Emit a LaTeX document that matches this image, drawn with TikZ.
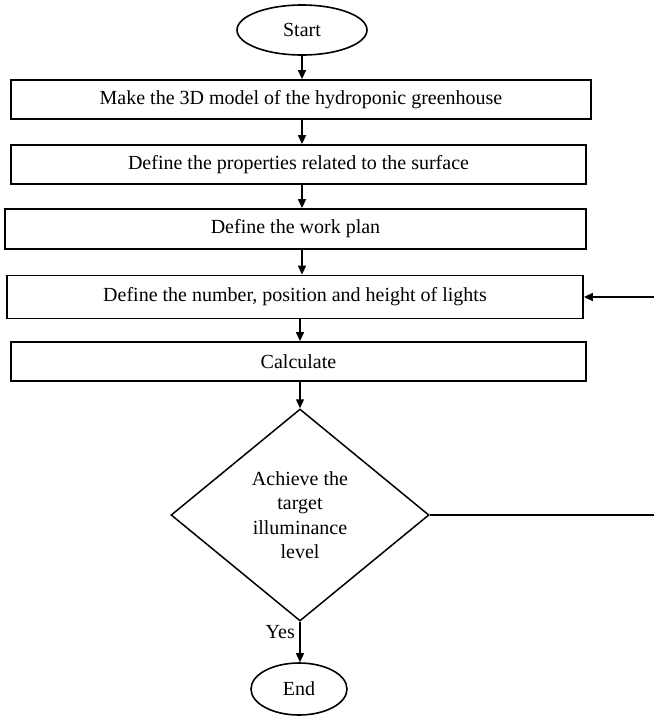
\documentclass[tikz,border=0pt]{standalone}
\usepackage{fontspec}
\setmainfont{Liberation Serif}
\usetikzlibrary{shapes.geometric,arrows.meta}
\begin{document}
\begin{tikzpicture}[x=1pt,y=-1pt,
  every node/.style={font=\fontsize{20}{24.5}\selectfont},
  procbox/.style={draw, line width=1.8pt, inner sep=0pt, align=center},
  term/.style={draw, ellipse, line width=1.6pt, inner sep=0pt},
  decide/.style={draw, diamond, line width=1.5pt, inner sep=0pt, align=center},
  arr/.style={line width=1.4pt, -{Triangle[length=9pt,width=8pt]}}]
\useasboundingbox (0,0) rectangle (654,716);
\coordinate (ax) at (302,0);
\coordinate (bx) at (300,0);
\coordinate (loop) at (657,0);

\node[term, minimum width=130pt, minimum height=50pt] (start) at (302,30) {Start};
\node[procbox, minimum width=580pt, minimum height=39pt] (b1) at (301,99.5) {Make the 3D model of the hydroponic greenhouse};
\node[procbox, minimum width=575pt, minimum height=39pt] (b2) at (298.5,164.5) {Define the properties related to the surface};
\node[procbox, minimum width=581pt, minimum height=40pt] (b3) at (295.5,229) {Define the work plan};
\node[procbox, minimum width=576pt, minimum height=43pt] (b4) at (295,297) {Define the number, position and height of lights};
\node[procbox, minimum width=575pt, minimum height=39pt] (b5) at (298.5,361.5) {Calculate};
\node[decide, minimum width=258pt, minimum height=212pt] (dec) at (300,515) {Achieve the\\target\\illuminance\\level};
\node[term, minimum width=96pt, minimum height=52pt] (fin) at (299,689) {End};
\node[anchor=east, inner sep=0pt] (yes) at (295,632) {Yes};

\draw[arr] (start.south) -- (ax |- b1.north);
\draw[arr] (ax |- b1.south) -- (ax |- b2.north);
\draw[arr] (ax |- b2.south) -- (ax |- b3.north);
\draw[arr] (ax |- b3.south) -- (ax |- b4.north);
\draw[arr] (bx |- b4.south) -- (bx |- b5.north);
\draw[arr] (bx |- b5.south) -- (dec.north);
\draw[arr] (dec.south) -- (dec.south |- fin.north);
\draw[arr] (dec.east) -- (dec.east -| loop) |- (b4.east);
\end{tikzpicture}
\end{document}
